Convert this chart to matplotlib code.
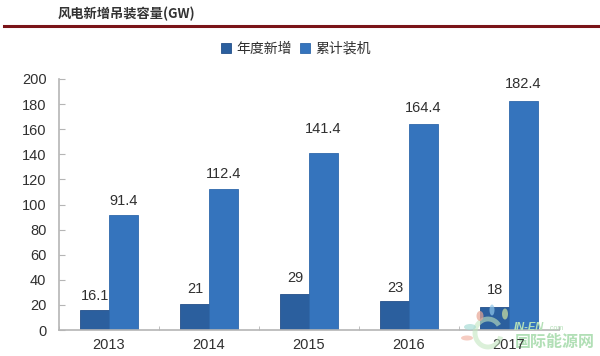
import matplotlib
matplotlib.use("Agg")
import matplotlib.pyplot as plt
import numpy as np
from matplotlib.patches import Ellipse, Arc

plt.rcParams['font.family'] = ['Liberation Sans', 'Noto Sans CJK SC', 'DejaVu Sans']

years = ['2013', '2014', '2015', '2016', '2017']
nuevo = [16.1, 21, 29, 23, 18]
acumulado = [91.4, 112.4, 141.4, 164.4, 182.4]
etiq_nuevo = ['16.1', '21', '29', '23', '18']
etiq_acum = ['91.4', '112.4', '141.4', '164.4', '182.4']
yticks = [0, 20, 40, 60, 80, 100, 120, 140, 160, 180, 200]

W, H = 600, 356
fig = plt.figure(figsize=(6, 3.56), dpi=100)
ax = fig.add_axes([59/W, 1-330/H, 500/W, 251/H])
ax.patch.set_visible(False)

x = np.arange(len(years))
ancho = 0.29
ax.bar(x-ancho/2, nuevo, ancho, color='#2b5f9e', edgecolor='#24508a', linewidth=0.6, label='年度新增')
ax.bar(x+ancho/2, acumulado, ancho, color='#3574bd', edgecolor='#2f68ab', linewidth=0.6, label='累计装机')

# etiquetas de valores, separacion en pixeles sobre cada barra
sep_nuevo = [14, 15, 16, 13, 17]
sep_acum = [14, 15, 24, 16, 17]
for i in range(len(years)):
    ax.annotate(etiq_nuevo[i], (x[i]-ancho/2+0.01, nuevo[i]), xytext=(0, sep_nuevo[i]*0.72), textcoords='offset points',
                ha='center', va='center', fontsize=10.5, color='#303030')
    ax.annotate(etiq_acum[i], (x[i]+ancho/2, acumulado[i]), xytext=(0, sep_acum[i]*0.72), textcoords='offset points',
                ha='center', va='center', fontsize=10.5, color='#303030')

ax.set_xlim(-0.5, 4.5)
ax.set_ylim(0, 200)
ax.set_yticks(yticks)
ax.set_xticks(x)
ax.set_xticklabels(years)
ax.set_xticks(np.arange(-0.5, 5), minor=True)
ax.tick_params(axis='x', which='major', length=0, pad=6, labelsize=10.5, labelcolor='#303030')
ax.tick_params(axis='x', which='minor', length=3, direction='in', color='#b5b5b5')
ax.tick_params(axis='y', length=4, direction='in', color='#b5b5b5', pad=9, labelsize=10.5, labelcolor='#303030')
for lado in ['top', 'right']:
    ax.spines[lado].set_visible(False)
for lado in ['left', 'bottom']:
    ax.spines[lado].set_color('#b5b5b5')
    ax.spines[lado].set_linewidth(1.2)

ax.legend(loc='center', bbox_to_anchor=(296/W, 1-49/H), bbox_transform=fig.transFigure, ncol=2,
          frameon=False, fontsize=10, handlelength=0.7, handleheight=0.7, handletextpad=0.4, columnspacing=0.6,
          labelcolor='#303030')

# titulo y linea
fig.text(58/W, 1-14/H, '风电新增吊装容量(GW)', fontsize=9.5, fontweight='bold', color='#333333', va='center',
         family=['Noto Sans CJK SC', 'DejaVu Sans'])
fig.add_artist(plt.Line2D([4/W, 1], [1-26/H, 1-26/H], color='#7a1418', linewidth=2.2))

# marca de agua, el nombre queda detras de los ejes
fig.text(555/W, 1-342/H, '国际能源网', fontsize=11.5, fontweight='bold', color='#a9dcae', ha='center', va='center', alpha=0.9,
         family=['Noto Sans CJK SC', 'DejaVu Sans'], zorder=-5)
fig.text(529/W, 1-327/H, 'IN-EN', fontsize=8, fontweight='bold', style='italic', color='#b5e0b8', ha='center', va='center', zorder=5)
fig.text(556/W, 1-328/H, '.com', fontsize=5, color='#b5e0b8', ha='center', va='center', zorder=5)
fig.add_artist(Arc((488/W, 1-333/H), 26/W, 28/H, theta1=50, theta2=335, transform=fig.transFigure,
                   edgecolor='#c3e6c0', linewidth=3.5, alpha=0.6))
petalos = [(467, 338, '#f3b7a8', 12, 5), (470, 327, '#a9dcd6', 12, 6), (480, 316, '#e7a593', 7, 10), (492, 310, '#8fc7ea', 5, 11), (505, 314, '#cfe3a0', 6, 11)]
for px, py, c, a, b in petalos:
    fig.add_artist(Ellipse((px/W, 1-py/H), a/W, b/H, transform=fig.transFigure, color=c, alpha=0.7, linewidth=0))

fig.savefig('out.png', dpi=100)
